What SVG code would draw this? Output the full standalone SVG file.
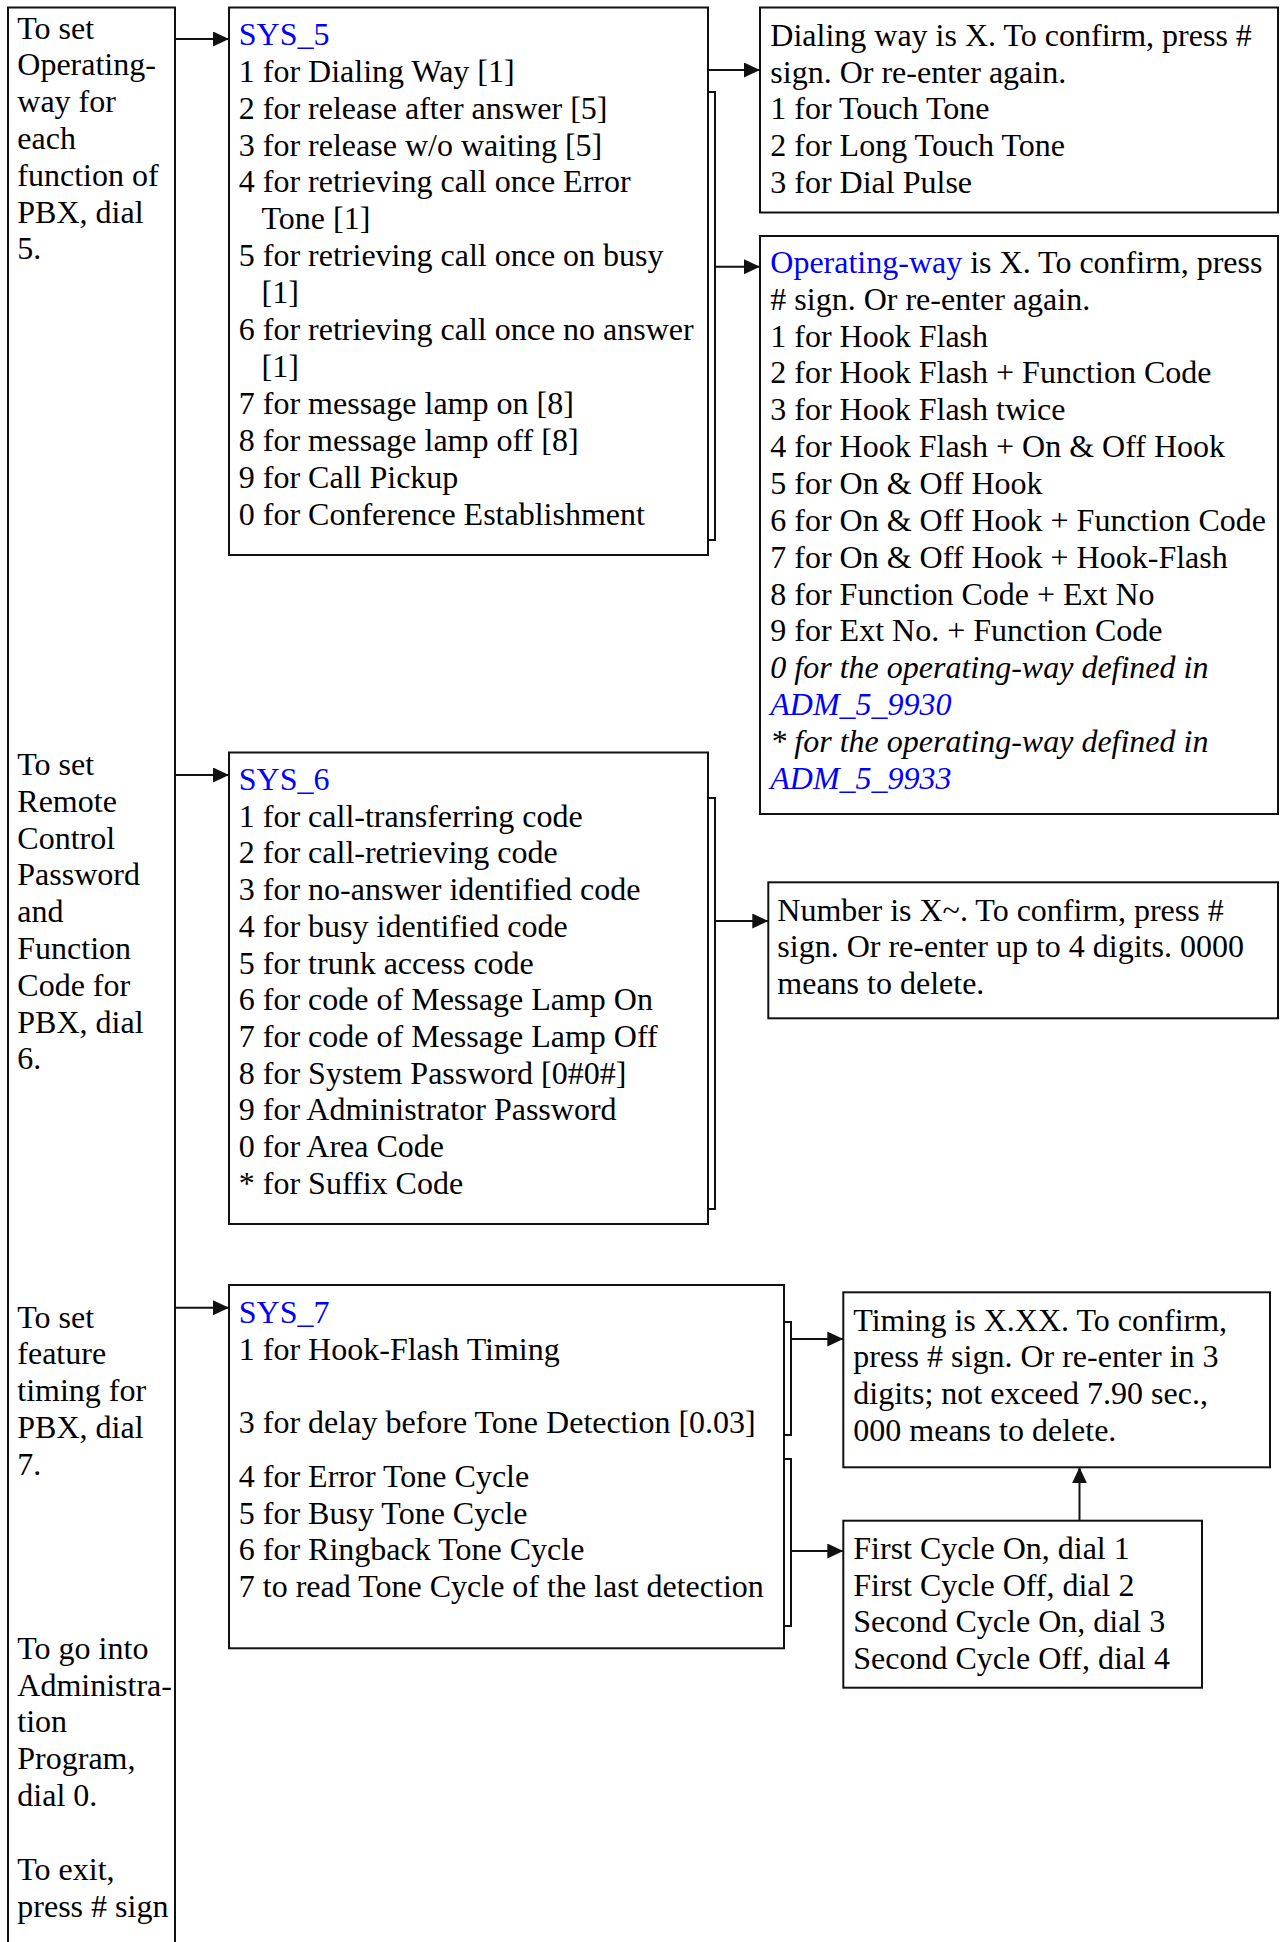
<svg xmlns="http://www.w3.org/2000/svg" width="1280" height="1942" viewBox="0 0 1280 1942">
  <style>
    .t { font-family: "Liberation Serif", "Times New Roman", serif; font-size: 32px; fill: #000; }
    .b { fill: #0000ff; }
    .i { font-style: italic; }
    .box { fill: #fff; stroke: #111; stroke-width: 2; }
    .ln { fill: none; stroke: #111; stroke-width: 2; }
    .arr { marker-end: url(#head); }
  </style>
  <defs>
    <marker id="head" markerUnits="userSpaceOnUse" markerWidth="17" markerHeight="16" refX="16" refY="7.5" orient="auto">
      <path d="M0,0 L16,7.5 L0,15 z" fill="#111"/>
    </marker>
  </defs>

  <rect width="1280" height="1942" fill="#fff"/>

  <!-- left-hand menu column -->
  <g id="menu">
    <rect class="box" x="8" y="7.5" width="167" height="1950"/>
    <text class="t">
      <tspan x="17.3" y="38.6">To set</tspan>
      <tspan x="17.3" y="75.4">Operating-</tspan>
      <tspan x="17.3" y="112.2">way for</tspan>
      <tspan x="17.3" y="149">each</tspan>
      <tspan x="17.3" y="185.8">function of</tspan>
      <tspan x="17.3" y="222.6">PBX, dial</tspan>
      <tspan x="17.3" y="259.4">5.</tspan>
    </text>
    <text class="t">
      <tspan x="17.3" y="775">To set</tspan>
      <tspan x="17.3" y="811.8">Remote</tspan>
      <tspan x="17.3" y="848.6">Control</tspan>
      <tspan x="17.3" y="885.4">Password</tspan>
      <tspan x="17.3" y="922.2">and</tspan>
      <tspan x="17.3" y="959">Function</tspan>
      <tspan x="17.3" y="995.8">Code for</tspan>
      <tspan x="17.3" y="1032.6">PBX, dial</tspan>
      <tspan x="17.3" y="1069.4">6.</tspan>
    </text>
    <text class="t">
      <tspan x="17.3" y="1327.5">To set</tspan>
      <tspan x="17.3" y="1364.3">feature</tspan>
      <tspan x="17.3" y="1401.1">timing for</tspan>
      <tspan x="17.3" y="1437.9">PBX, dial</tspan>
      <tspan x="17.3" y="1474.7">7.</tspan>
    </text>
    <text class="t">
      <tspan x="17.3" y="1658.8">To go into</tspan>
      <tspan x="17.3" y="1695.6">Administra-</tspan>
      <tspan x="17.3" y="1732.4">tion</tspan>
      <tspan x="17.3" y="1769.2">Program,</tspan>
      <tspan x="17.3" y="1806">dial 0.</tspan>
    </text>
    <text class="t">
      <tspan x="17.3" y="1880">To exit,</tspan>
      <tspan x="17.3" y="1916.8">press # sign</tspan>
    </text>
  </g>

  <!-- SYS_5 menu -->
  <g id="sys5">
    <rect class="box" x="229" y="7.5" width="479" height="547.5"/>
    <text class="t">
      <tspan class="b" x="238.8" y="44.8">SYS_5</tspan>
      <tspan x="238.8" y="81.7">1 for Dialing Way [1]</tspan>
      <tspan x="238.8" y="118.6">2 for release after answer [5]</tspan>
      <tspan x="238.8" y="155.5">3 for release w/o waiting [5]</tspan>
      <tspan x="238.8" y="192.4">4 for retrieving call once Error</tspan>
      <tspan x="261.5" y="229.3">Tone [1]</tspan>
      <tspan x="238.8" y="266.2">5 for retrieving call once on busy</tspan>
      <tspan x="261.5" y="303.1">[1]</tspan>
      <tspan x="238.8" y="340">6 for retrieving call once no answer</tspan>
      <tspan x="261.5" y="376.9">[1]</tspan>
      <tspan x="238.8" y="413.8">7 for message lamp on [8]</tspan>
      <tspan x="238.8" y="450.7">8 for message lamp off [8]</tspan>
      <tspan x="238.8" y="487.6">9 for Call Pickup</tspan>
      <tspan x="238.8" y="524.6">0 for Conference Establishment</tspan>
    </text>
  </g>

  <!-- dialing way prompt -->
  <g id="dialing-way">
    <rect class="box" x="760" y="7.5" width="518" height="205"/>
    <text class="t">
      <tspan x="770.3" y="46">Dialing way is X. To confirm, press #</tspan>
      <tspan x="770.3" y="82.7">sign. Or re-enter again.</tspan>
      <tspan x="770.3" y="119.4">1 for Touch Tone</tspan>
      <tspan x="770.3" y="156.1">2 for Long Touch Tone</tspan>
      <tspan x="770.3" y="192.8">3 for Dial Pulse</tspan>
    </text>
  </g>

  <!-- operating-way prompt -->
  <g id="operating-way">
    <rect class="box" x="760" y="236" width="518" height="578"/>
    <text class="t">
      <tspan x="770.3" y="272.8"><tspan class="b">Operating-way</tspan> is X. To confirm, press</tspan>
      <tspan x="770.3" y="309.7"># sign. Or re-enter again.</tspan>
      <tspan x="770.3" y="346.5">1 for Hook Flash</tspan>
      <tspan x="770.3" y="383.4">2 for Hook Flash + Function Code</tspan>
      <tspan x="770.3" y="420.2">3 for Hook Flash twice</tspan>
      <tspan x="770.3" y="457.1">4 for Hook Flash + On &amp; Off Hook</tspan>
      <tspan x="770.3" y="493.9">5 for On &amp; Off Hook</tspan>
      <tspan x="770.3" y="530.8">6 for On &amp; Off Hook + Function Code</tspan>
      <tspan x="770.3" y="567.6">7 for On &amp; Off Hook + Hook-Flash</tspan>
      <tspan x="770.3" y="604.5">8 for Function Code + Ext No</tspan>
      <tspan x="770.3" y="641.3">9 for Ext No. + Function Code</tspan>
      <tspan class="i" x="770.3" y="678.2">0 for the operating-way defined in</tspan>
      <tspan class="i b" x="770.3" y="715">ADM_5_9930</tspan>
      <tspan class="i" x="770.3" y="751.9">* for the operating-way defined in</tspan>
      <tspan class="i b" x="770.3" y="788.7">ADM_5_9933</tspan>
    </text>
  </g>

  <!-- SYS_6 menu -->
  <g id="sys6">
    <rect class="box" x="229" y="752.5" width="479" height="471.5"/>
    <text class="t">
      <tspan class="b" x="238.8" y="790">SYS_6</tspan>
      <tspan x="238.8" y="826.7">1 for call-transferring code</tspan>
      <tspan x="238.8" y="863.4">2 for call-retrieving code</tspan>
      <tspan x="238.8" y="900.1">3 for no-answer identified code</tspan>
      <tspan x="238.8" y="936.8">4 for busy identified code</tspan>
      <tspan x="238.8" y="973.5">5 for trunk access code</tspan>
      <tspan x="238.8" y="1010.2">6 for code of Message Lamp On</tspan>
      <tspan x="238.8" y="1046.9">7 for code of Message Lamp Off</tspan>
      <tspan x="238.8" y="1083.6">8 for System Password [0#0#]</tspan>
      <tspan x="238.8" y="1120.3">9 for Administrator Password</tspan>
      <tspan x="238.8" y="1157">0 for Area Code</tspan>
      <tspan x="238.8" y="1193.7">* for Suffix Code</tspan>
    </text>
  </g>

  <!-- number prompt -->
  <g id="number">
    <rect class="box" x="768.3" y="882.3" width="509.7" height="136"/>
    <text class="t">
      <tspan x="777.3" y="920.5">Number is X~. To confirm, press #</tspan>
      <tspan x="777.3" y="957.2">sign. Or re-enter up to 4 digits. 0000</tspan>
      <tspan x="777.3" y="993.9">means to delete.</tspan>
    </text>
  </g>

  <!-- SYS_7 menu -->
  <g id="sys7">
    <rect class="box" x="229" y="1285" width="555" height="363.3"/>
    <text class="t">
      <tspan class="b" x="238.8" y="1323.2">SYS_7</tspan>
      <tspan x="238.8" y="1359.9">1 for Hook-Flash Timing</tspan>
      <tspan x="238.8" y="1433.3">3 for delay before Tone Detection [0.03]</tspan>
      <tspan x="238.8" y="1486.8">4 for Error Tone Cycle</tspan>
      <tspan x="238.8" y="1523.5">5 for Busy Tone Cycle</tspan>
      <tspan x="238.8" y="1560.2">6 for Ringback Tone Cycle</tspan>
      <tspan x="238.8" y="1597.2">7 to read Tone Cycle of the last detection</tspan>
    </text>
  </g>

  <!-- timing prompt -->
  <g id="timing">
    <rect class="box" x="843.3" y="1292.3" width="426.7" height="175"/>
    <text class="t">
      <tspan x="853.3" y="1330.5">Timing is X.XX. To confirm,</tspan>
      <tspan x="853.3" y="1367.2">press # sign. Or re-enter in 3</tspan>
      <tspan x="853.3" y="1403.9">digits; not exceed 7.90 sec.,</tspan>
      <tspan x="853.3" y="1440.6">000 means to delete.</tspan>
    </text>
  </g>

  <!-- tone cycle selector -->
  <g id="tone-cycle">
    <rect class="box" x="843.3" y="1520.7" width="358.7" height="167"/>
    <text class="t">
      <tspan x="853.3" y="1559">First Cycle On, dial 1</tspan>
      <tspan x="853.3" y="1595.7">First Cycle Off, dial 2</tspan>
      <tspan x="853.3" y="1632.4">Second Cycle On, dial 3</tspan>
      <tspan x="853.3" y="1669.1">Second Cycle Off, dial 4</tspan>
    </text>
  </g>

  <!-- connectors -->
  <g id="connectors">
    <path class="ln arr" d="M175,39 H229"/>
    <path class="ln arr" d="M175,775 H229"/>
    <path class="ln arr" d="M175,1307.7 H229"/>

    <path class="ln arr" d="M708,70 H760"/>
    <path class="ln" d="M708,92 H715 V540 H708"/>
    <path class="ln arr" d="M715,266.7 H760"/>

    <path class="ln" d="M708,798 H715 V1209 H708"/>
    <path class="ln arr" d="M715,921 H768.3"/>

    <path class="ln" d="M784,1322 H791 V1435 H784"/>
    <path class="ln arr" d="M791,1339 H843.3"/>
    <path class="ln" d="M784,1459 H791 V1626 H784"/>
    <path class="ln arr" d="M791,1551 H843.3"/>

    <path class="ln arr" d="M1079.5,1520.7 V1467.3"/>
  </g>
</svg>
